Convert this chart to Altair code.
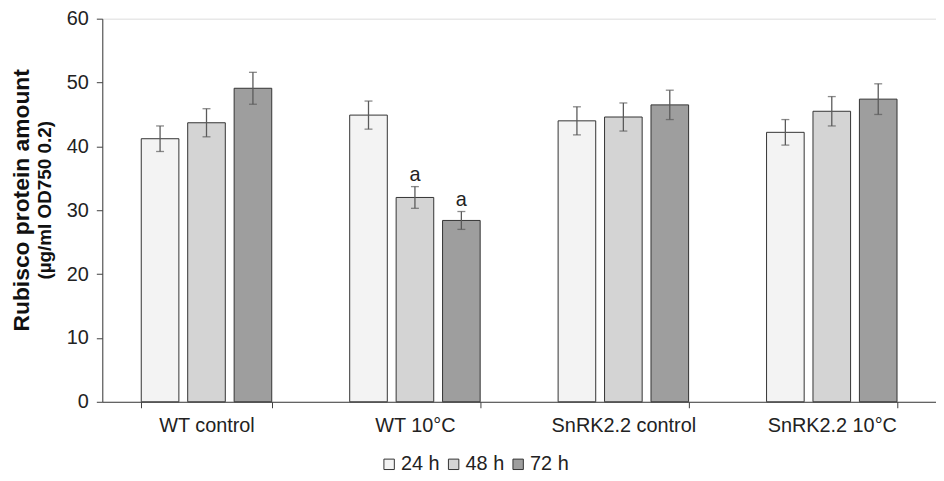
import altair as alt
import pandas as pd

groups = ["WT control", "WT 10°C", "SnRK2.2 control", "SnRK2.2 10°C"]
series = ["24 h", "48 h", "72 h"]
vals_24 = [41.2, 44.9, 44.0, 42.2]
vals_48 = [43.7, 32.0, 44.6, 45.5]
vals_72 = [49.1, 28.4, 46.5, 47.4]
err_24 = [2.0, 2.2, 2.2, 2.0]
err_48 = [2.2, 1.7, 2.2, 2.3]
err_72 = [2.5, 1.4, 2.3, 2.4]
sig_24 = ["", "", "", ""]
sig_48 = ["", "a", "", ""]
sig_72 = ["", "a", "", ""]
y_ticks = [0, 10, 20, 30, 40, 50, 60]
fills = ["#f3f3f3", "#d4d4d4", "#9e9e9e"]
title_line1 = "Rubisco protein amount"
title_line2 = "(µg/ml OD750 0.2)"

rows = []
for s, vals, errs, sigs in zip(series, [vals_24, vals_48, vals_72],
                               [err_24, err_48, err_72], [sig_24, sig_48, sig_72]):
    for g, v, e, a in zip(groups, vals, errs, sigs):
        rows.append({"group": g, "series": s, "value": v,
                     "lo": v - e, "hi": v + e, "label": a})
df = pd.DataFrame(rows)

FONT = "Liberation Sans"
AX = "#404040"

x_enc = alt.X("group:N", sort=groups,
              scale=alt.Scale(paddingInner=0.374, paddingOuter=0.187),
              axis=alt.Axis(title=None, labelAngle=0, tickBand="extent",
                            tickSize=6, tickColor=AX, domainColor=AX,
                            labelFontSize=20, labelFont=FONT, labelColor="#222",
                            labelPadding=8))
xo_enc = alt.XOffset("series:N", sort=series,
                     scale=alt.Scale(paddingInner=0.19, paddingOuter=0))
y_scale = alt.Scale(domain=[0, 60], nice=False)

base = alt.Chart(df).encode(x=x_enc, xOffset=xo_enc)

bars = base.mark_bar(stroke="#333333", strokeWidth=1).encode(
    y=alt.Y("value:Q", scale=y_scale, title=None,
            axis=alt.Axis(values=y_ticks, grid=False, tickSize=6, tickColor=AX,
                          domainColor=AX, labelFontSize=20, labelFont=FONT,
                          labelColor="#222", labelPadding=8)),
    fill=alt.Fill("series:N", sort=series,
                  scale=alt.Scale(domain=series, range=fills),
                  legend=alt.Legend(title=None, orient="none", direction="horizontal",
                                    legendX=279, legendY=439, symbolType="square",
                                    symbolSize=110, symbolStrokeColor="#333333",
                                    symbolStrokeWidth=1, labelFontSize=20,
                                    labelFont=FONT, labelColor="#222",
                                    labelOffset=2, columnPadding=4, padding=0)),
)

rules = base.mark_rule(color="#5a5a5a", strokeWidth=1.3).encode(
    y=alt.Y("lo:Q", scale=y_scale, title=None), y2="hi:Q")
cap_hi = base.mark_tick(color="#5a5a5a", size=8, thickness=1.3).encode(
    y=alt.Y("hi:Q", scale=y_scale, title=None))
cap_lo = base.mark_tick(color="#5a5a5a", size=8, thickness=1.3).encode(
    y=alt.Y("lo:Q", scale=y_scale, title=None))
sig = base.mark_text(font=FONT, fontSize=20, color="#222", baseline="alphabetic",
                     dy=-6).encode(
    y=alt.Y("hi:Q", scale=y_scale, title=None), text="label:N")

tdf = pd.DataFrame({"t": [title_line1]})
t1 = alt.Chart(tdf).mark_text(font=FONT, fontSize=23, fontWeight="bold", angle=270,
                              align="center", baseline="middle", color="#111").encode(
    x=alt.value(-81), y=alt.value(183), text="t:N")
tdf2 = pd.DataFrame({"t": [title_line2]})
t2 = alt.Chart(tdf2).mark_text(font=FONT, fontSize=19, fontWeight="bold", angle=270,
                               align="center", baseline="middle", color="#111").encode(
    x=alt.value(-58), y=alt.value(183), text="t:N")

chart = alt.layer(bars, rules, cap_hi, cap_lo, sig, t1, t2).properties(
    width=840, height=386,
    autosize=alt.AutoSizeParams(type="none"),
    padding={"left": 95, "top": 9, "right": 0, "bottom": 72},
).configure_view(stroke=None).configure(background="white")

chart.save("out.html", embed_options={"renderer": "svg", "actions": False})
